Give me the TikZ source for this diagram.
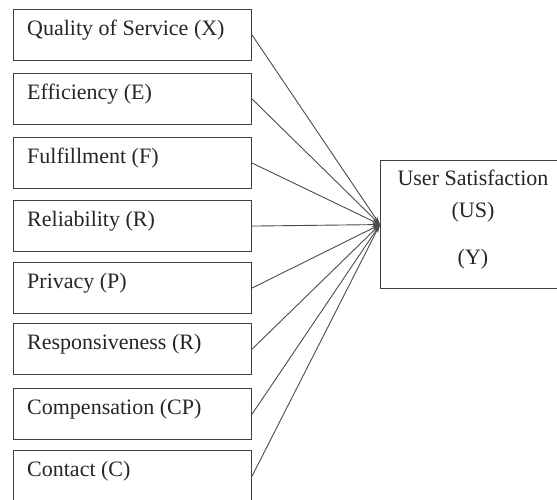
\documentclass[tikz,border=0pt]{standalone}
\usepackage{fontspec}
\setmainfont{Liberation Serif}
\usetikzlibrary{arrows.meta}
\begin{document}
\begin{tikzpicture}[x=1pt,y=-1pt,
  dimbox/.style={draw=black!75,line width=1.1pt,rectangle,minimum width=238pt,minimum height=51pt,inner sep=0pt,anchor=north west},
  dimtext/.style={anchor=base west,inner sep=0pt,text=black!85,font=\fontsize{22}{26}\selectfont},
  ustext/.style={anchor=base,inner sep=0pt,text=black!85,font=\fontsize{22}{26}\selectfont},
  link/.style={draw=black!70,line width=0.9pt,-{Stealth[length=8pt,width=4pt]}}]
\useasboundingbox (0,0) rectangle (557,499);
\fill[white] (0,0) rectangle (557,499);
\clip (0,0) rectangle (557,499);
% dimension boxes on the left
\node[dimbox] (b1) at (13,9) {};
\node[dimbox] (b2) at (13,73) {};
\node[dimbox] (b3) at (13,137) {};
\node[dimbox] (b4) at (13,200) {};
\node[dimbox] (b5) at (13,262) {};
\node[dimbox] (b6) at (13,323) {};
\node[dimbox] (b7) at (13,388) {};
\node[dimbox] (b8) at (13,450) {};
\node[dimtext] (t1) at ([xshift=14pt,yshift=-26pt]b1.north west) {Quality of Service (X)};
\node[dimtext] (t2) at ([xshift=14pt,yshift=-26pt]b2.north west) {Efficiency (E)};
\node[dimtext] (t3) at ([xshift=14pt,yshift=-26pt]b3.north west) {Fulfillment (F)};
\node[dimtext] (t4) at ([xshift=14pt,yshift=-26pt]b4.north west) {Reliability (R)};
\node[dimtext] (t5) at ([xshift=14pt,yshift=-26pt]b5.north west) {Privacy (P)};
\node[dimtext] (t6) at ([xshift=14pt,yshift=-26pt]b6.north west) {Responsiveness (R)};
\node[dimtext] (t7) at ([xshift=14pt,yshift=-26pt]b7.north west) {Compensation (CP)};
\node[dimtext] (t8) at ([xshift=14pt,yshift=-26pt]b8.north west) {Contact (C)};
% outcome box on the right
\node[draw=black!75,line width=1.1pt,rectangle,minimum width=186pt,minimum height=128pt,inner sep=0pt,anchor=north west] (us) at (380,160) {};
\node[ustext] (u1) at (473,185) {User Satisfaction};
\node[ustext] (u2) at (473,217) {(US)};
\node[ustext] (u3) at (473,264) {(Y)};
% arrows
\foreach \i in {1,...,8} {
  \draw[link] (b\i.east) -- (us.west);
}
\end{tikzpicture}
\end{document}
